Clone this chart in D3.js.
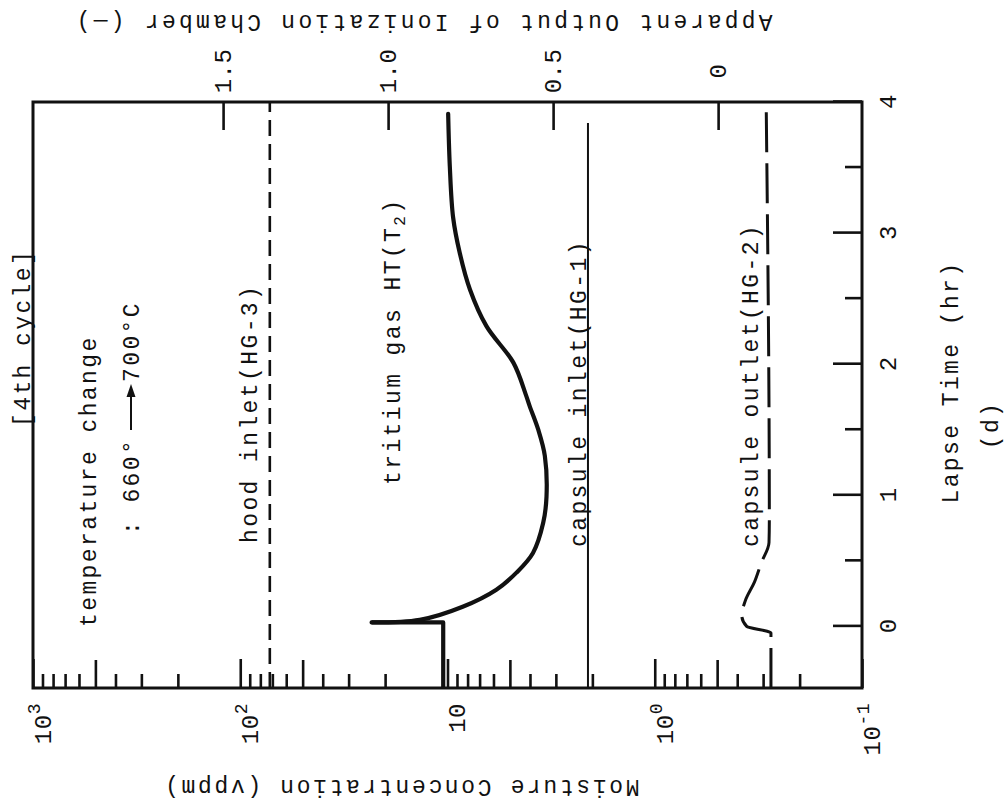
<!DOCTYPE html>
<html>
<head>
<meta charset="utf-8">
<title>4th cycle - moisture and tritium</title>
<script src="https://cdn.jsdelivr.net/npm/d3@7"></script>
<style>
  body { margin: 0; background: #fff; }
  text { font-family: "Liberation Mono", "DejaVu Sans Mono", monospace; fill: #111; }
</style>
</head>
<body>
<svg id="chart" width="1006" height="808"></svg>
<script>
////////// Data (time in hr)
var hoodInletTime = [-0.47, 4.0];
var hoodInletVppm = [72, 72];

var capsuleInletTime = [-0.47, 3.84];
var capsuleInletVppm = [2.1, 2.1];

var capsuleOutletTime = [-0.47, -0.05, 0.0, 0.08, 0.2, 0.34, 0.48, 0.64, 0.8, 4.0];
var capsuleOutletVppm = [0.275, 0.275, 0.36, 0.38, 0.365, 0.33, 0.307, 0.281, 0.28, 0.29];

// tritium gas is read on the ionization chamber scale
var tritiumTime = [-0.47, 0.03, 0.03, 0.05, 0.15, 0.28, 0.41, 0.56, 0.79, 0.99, 1.3, 1.5, 1.68, 1.77, 2.01, 2.29, 2.57, 2.85, 3.12, 3.51, 3.91];
var tritiumOutput = [0.833, 0.833, 1.05, 0.904, 0.774, 0.672, 0.611, 0.561, 0.53, 0.52, 0.525, 0.545, 0.571, 0.583, 0.62, 0.702, 0.752, 0.783, 0.803, 0.813, 0.818];

// axis ticks
var timeTicks = [0, 1, 2, 3, 4];
var timeMinorTicks = [0.5, 1.5, 2.5, 3.5];
var moistureDecades = [1000, 100, 10, 1, 0.1];
var moistureLabelBase = ["10", "10", "10", "10", "10"];
var moistureLabelExp = ["3", "2", "", "0", "-1"];
var minorMults = [2, 3, 4, 6, 7, 8, 9];
var outputTicks = [0, 0.5, 1.0, 1.5];
var outputLabels = ["0", "0.5", "1.0", "1.5"];

////////// Layout
// the figure is printed a quarter turn round, so the chart is drawn
// upright in its own group and the group is rotated
var frameLeft = 33, frameRight = 862, frameTop = 102, frameBottom = 688;
var W = frameBottom - frameTop;   // length of the time axis
var H = frameRight - frameLeft;   // length of the moisture axis
var ink = "#111";

var svg = d3.select("#chart");
var g = svg.append("g")
    .attr("transform", "translate(" + frameLeft + "," + frameBottom + ") rotate(-90)");

var x = d3.scaleLinear().domain([-0.47, 4]).range([0, W]);
var yMoist = d3.scaleLog().domain([0.1, 1000]).range([H, 0]);
var yOut = d3.scaleLinear().domain([-0.436, 2.076]).range([H, 0]);

function styleAxis(sel, size) {
  sel.select(".domain").remove();
  sel.attr("font-size", size);
  sel.selectAll(".tick line").attr("stroke", ink).attr("stroke-width", 2.6);
  sel.selectAll(".tick text").style("letter-spacing", "0.5px");
}

/*
 * Time axis (right side of the picture)
 */
g.append("g")
  .attr("transform", "translate(0," + H + ")")
  .call(d3.axisBottom(x).tickValues(timeTicks).tickSize(-29).tickPadding(17).tickFormat(d3.format("d")))
  .call(styleAxis, 24);
g.append("g")
  .attr("transform", "translate(0," + H + ")")
  .call(d3.axisBottom(x).tickValues(timeMinorTicks).tickSize(-17).tickFormat(""))
  .call(styleAxis, 24);

/*
 * Moisture axis, log scale (bottom of the picture)
 */
var minorFives = [], minorOthers = [];
for (var k = 0; k < moistureDecades.length - 1; k++) {
  var base = moistureDecades[k + 1];
  minorFives.push(base * 5);
  for (var m = 0; m < minorMults.length; m++) minorOthers.push(base * minorMults[m]);
}

var gMoist = g.append("g")
  .call(d3.axisLeft(yMoist).tickValues(moistureDecades).tickSize(-29).tickPadding(15).tickFormat(""))
  .call(styleAxis, 24);
gMoist.selectAll(".tick text").each(function(d, i) {
  var t = d3.select(this).attr("dy", "0.72em").text(moistureLabelBase[i]);
  if (moistureLabelExp[i] != "") {
    t.append("tspan").attr("dy", -11).attr("font-size", 18).text(moistureLabelExp[i]);
  }
});
g.append("g")
  .call(d3.axisLeft(yMoist).tickValues(minorFives).tickSize(-28).tickFormat(""))
  .call(styleAxis, 24);
g.append("g")
  .call(d3.axisLeft(yMoist).tickValues(minorOthers).tickSize(-14).tickFormat(""))
  .call(styleAxis, 24);

/*
 * Ionization chamber axis (top of the picture)
 */
var gOut = g.append("g")
  .attr("transform", "translate(" + W + ",0)")
  .call(d3.axisRight(yOut).tickValues(outputTicks).tickSize(-28)
    .tickFormat(function(d, i) { return outputLabels[i]; }))
  .call(styleAxis, 24);
gOut.selectAll(".tick text").attr("x", 31).attr("text-anchor", "middle");

// frame
g.append("rect")
  .attr("x", 0).attr("y", 0)
  .attr("width", W).attr("height", H)
  .attr("fill", "none")
  .attr("stroke", ink)
  .attr("stroke-width", 3);

/*
 * Curves
 */
function zip(ts, vs) {
  return ts.map(function(t, i) { return { t: t, v: vs[i] }; });
}
var moistLine = d3.line()
  .x(function(d) { return x(d.t); })
  .y(function(d) { return yMoist(d.v); });
var outLine = d3.line()
  .x(function(d) { return x(d.t); })
  .y(function(d) { return yOut(d.v); });

// hood inlet (HG-3)
g.append("path")
  .datum(zip(hoodInletTime, hoodInletVppm))
  .attr("d", moistLine)
  .attr("fill", "none").attr("stroke", ink)
  .attr("stroke-width", 2.6)
  .attr("stroke-dasharray", "16,8");

// capsule inlet (HG-1)
g.append("path")
  .datum(zip(capsuleInletTime, capsuleInletVppm))
  .attr("d", moistLine)
  .attr("fill", "none").attr("stroke", ink)
  .attr("stroke-width", 2);

// capsule outlet (HG-2)
g.append("path")
  .datum(zip(capsuleOutletTime, capsuleOutletVppm))
  .attr("d", moistLine.curve(d3.curveMonotoneX))
  .attr("fill", "none").attr("stroke", ink)
  .attr("stroke-width", 3)
  .attr("stroke-dasharray", "40,11");
moistLine.curve(d3.curveLinear);

// tritium gas: the step at t=0 is straight, the rest is smooth
var tritium = zip(tritiumTime, tritiumOutput);
g.append("path")
  .datum(tritium.slice(0, 3))
  .attr("d", outLine)
  .attr("fill", "none").attr("stroke", ink)
  .attr("stroke-width", 4.2)
  .attr("stroke-linejoin", "round");
g.append("path")
  .datum(tritium.slice(2))
  .attr("d", outLine.curve(d3.curveCatmullRom.alpha(0.5)))
  .attr("fill", "none").attr("stroke", ink)
  .attr("stroke-width", 4.2)
  .attr("stroke-linecap", "round");

/*
 * Labels inside and round the frame
 */
function label(txt, u, v, size, spacing) {
  return g.append("text")
    .attr("x", u).attr("y", v)
    .attr("font-size", size || 23)
    .style("letter-spacing", (spacing == null ? 2.4 : spacing) + "px")
    .text(txt);
}

label("[4th cycle]", 261, -3);
label("temperature change", 61, 63);
label(": 660\u00b0", 153, 106);
label("700\u00b0C", 306, 106);
// arrow 660 -> 700
g.append("line")
  .attr("x1", 258).attr("y1", 98).attr("x2", 294).attr("y2", 98)
  .attr("stroke", ink).attr("stroke-width", 2);
g.append("path")
  .attr("d", "M291,93.5 L304,98 L291,102.5 Z")
  .attr("fill", ink);

label("hood inlet(HG-3)", 145, 224);
var tri = label("tritium gas HT(T", 203, 367);
tri.append("tspan").attr("font-size", 16).attr("dy", 5).text("2");
tri.append("tspan").attr("dy", -5).text(")");
label("capsule inlet(HG-1)", 141, 553);
label("capsule outlet(HG-2)", 141, 725);

// axis titles
label("Lapse Time (hr)", W / 2 + 13, 925).attr("text-anchor", "middle");
label("(d)", 263, 965).attr("text-anchor", "middle");

g.append("text")
  .attr("transform", "translate(-92," + 368 + ") rotate(-90)")
  .attr("text-anchor", "middle")
  .attr("font-size", 23)
  .style("letter-spacing", "2.65px")
  .text("Moisture Concentration (vppm)");

g.append("text")
  .attr("transform", "translate(673," + 390 + ") rotate(-90)")
  .attr("text-anchor", "middle")
  .attr("font-size", 23)
  .style("letter-spacing", "3.25px")
  .text("Apparent Output of Ionization Chamber (\u2014)");
</script>
</body>
</html>
